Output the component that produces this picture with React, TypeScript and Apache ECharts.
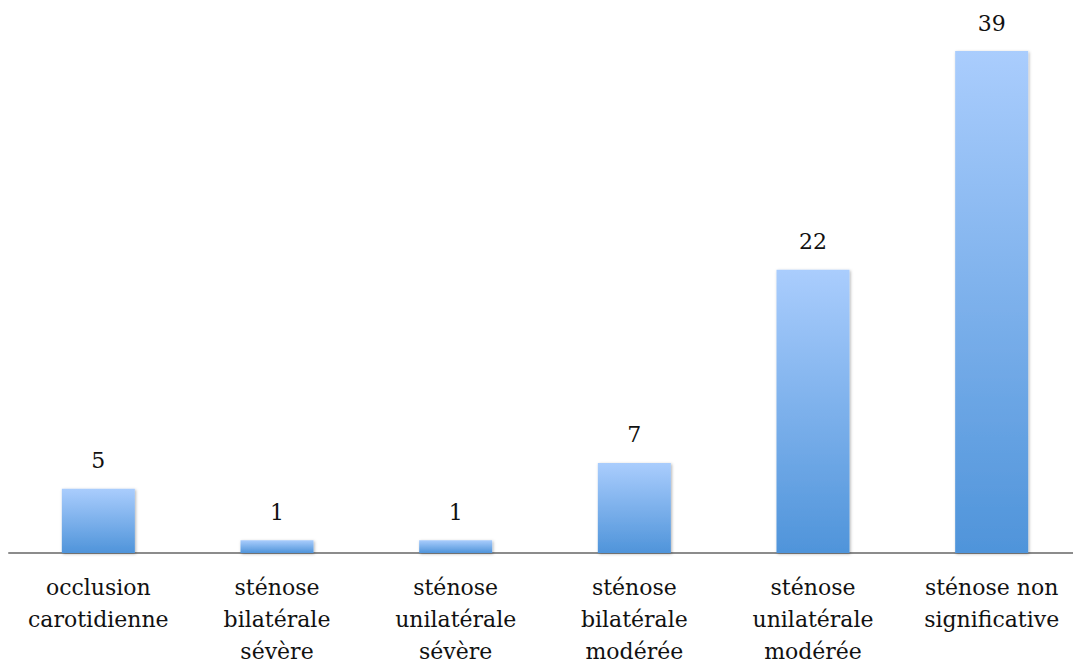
import React, { useEffect, useRef } from "react";
import * as echarts from "echarts";

const categories = [
  "occlusion\ncarotidienne",
  "sténose\nbilatérale\nsévère",
  "sténose\nunilatérale\nsévère",
  "sténose\nbilatérale\nmodérée",
  "sténose\nunilatérale\nmodérée",
  "sténose non\nsignificative",
];
const values = [5, 1, 1, 7, 22, 39];

const FONT = "'DejaVu Serif', serif";

export default function App() {
  const ref = useRef<HTMLDivElement>(null);
  useEffect(() => {
    const chart = echarts.init(ref.current!, null, { renderer: "svg" });
    chart.setOption({
      animation: false,
      backgroundColor: "#ffffff",
      grid: {
        left: 9,
        right: -8,
        top: 51,
        bottom: 111,
        containLabel: false,
        outerBoundsMode: "none",
      },
      xAxis: {
        type: "category",
        data: categories,
        axisLine: { show: true, lineStyle: { color: "#8c8c8c", width: 2 } },
        axisTick: { show: false },
        axisLabel: {
          interval: 0,
          margin: 18,
          color: "#111",
          fontFamily: FONT,
          fontSize: 22,
          lineHeight: 32,
        },
      },
      yAxis: {
        type: "value",
        min: 0,
        max: 39,
        show: false,
        splitLine: { show: false },
      },
      series: [
        {
          type: "bar",
          data: values,
          barWidth: 73,
          itemStyle: {
            color: new echarts.graphic.LinearGradient(0, 0, 0, 1, [
              { offset: 0, color: "#aacdfd" },
              { offset: 1, color: "#4f94da" },
            ]),
            shadowColor: "rgba(0,0,0,0.3)",
            shadowBlur: 3,
            shadowOffsetX: 1,
            shadowOffsetY: 1,
          },
          label: {
            show: true,
            position: "top",
            distance: 17,
            color: "#111",
            fontFamily: FONT,
            fontSize: 22,
          },
        },
      ],
    });
    return () => chart.dispose();
  }, []);
  return (
    <div
      ref={ref}
      style={{ position: "absolute", left: 0, top: 0, width: 1073, height: 664 }}
    />
  );
}
